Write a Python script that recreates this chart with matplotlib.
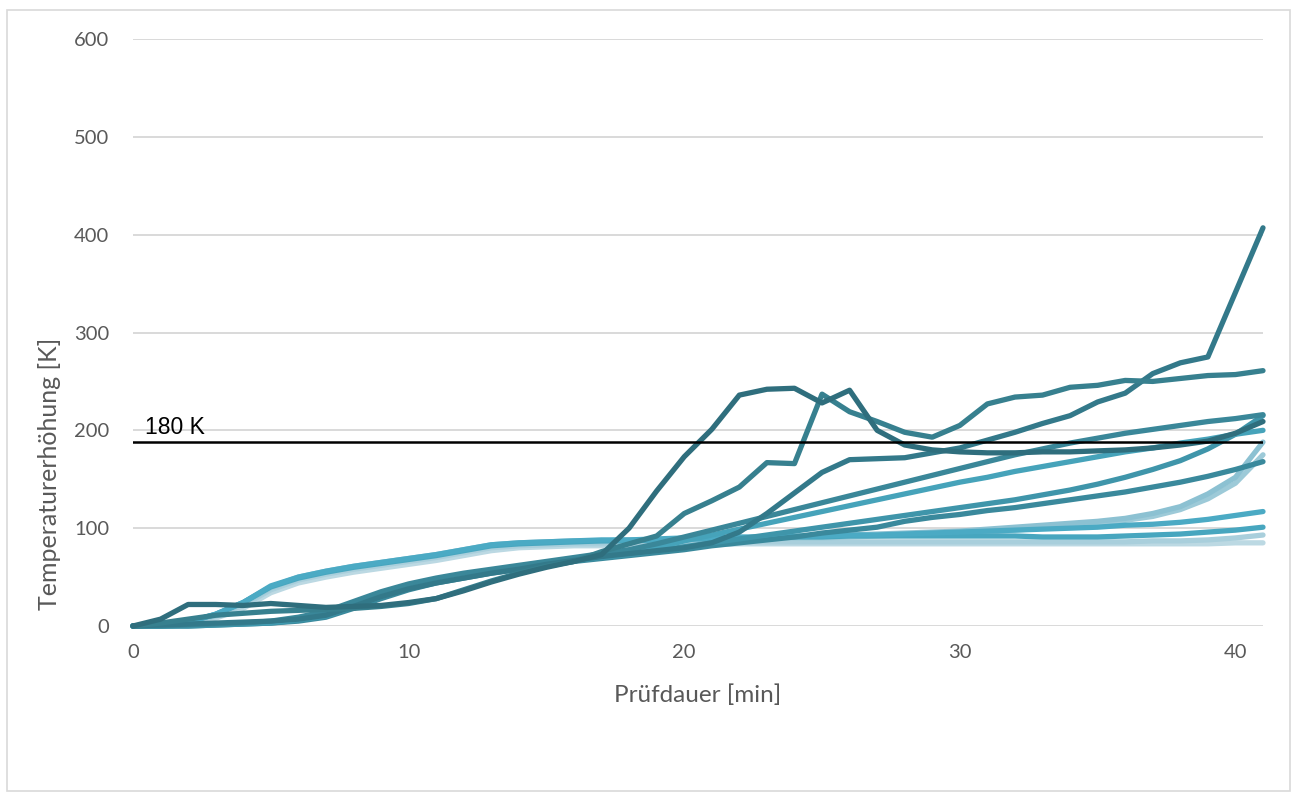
import matplotlib
matplotlib.use("Agg")
import matplotlib.pyplot as plt
from matplotlib.patches import Rectangle
import numpy as np

# ---------------- data ----------------
minutes = list(range(0, 42))

series_light_L4 = [0,0,2,8,18,34,44,50,55,59, 63,67,72,77,80,81,82,82,82,83,
                   83,83,84,84,84,84,84,84,84,84, 84,84,84,84,84,84,84,84,84,84, 85,85]
series_light_L3 = [0,1,3,10,21,37,47,53,58,62, 66,70,75,80,82,83,84,84,84,85,
                   85,85,86,86,86,86,86,86,86,86, 86,86,86,86,86,86,86,87,87,88, 90,93]
series_light_L6 = [0,1,4,11,23,39,49,55,60,64, 68,72,77,82,84,85,86,86,87,87,
                   88,88,89,89,90,90,91,92,93,94, 95,96,98,100,102,104,108,112,119,130, 146,175]
series_light_L5 = [0,1,4,12,24,40,50,56,61,65, 69,73,78,83,85,86,87,87,88,88,
                   89,89,90,91,91,92,93,94,95,96, 97,99,101,103,105,107,110,115,122,135, 152,188]
series_light_L2 = [0,1,4,12,24,40,49,55,60,64, 68,72,77,82,84,85,86,87,87,88,
                   89,89,90,90,91,91,92,92,92,92, 92,92,92,91,91,91,92,93,94,96, 98,101]
series_light_L1 = [0,1,4,12,24,41,50,56,61,65, 69,73,78,83,85,86,87,88,88,89,
                   90,90,91,91,92,92,93,93,94,95, 96,97,98,99,100,101,103,104,106,109, 113,117]
series_G = [0,0,0,1,2,3,5,9,18,28, 37,44,49,54,58,62,66,69,72,75,
            78,82,85,88,91,95,98,101,107,111, 114,118,121,125,129,133,137,142,147,153, 160,168]
series_F = [0,0,0,1,2,3,6,10,20,30, 39,46,51,55,59,63,67,70,73,77,
            81,85,89,93,97,101,105,109,113,117, 121,125,129,134,139,145,152,160,169,181, 196,215]
series_E = [0,0,1,2,3,4,7,12,22,33, 41,47,52,56,60,64,68,72,75,80,
            87,93,99,105,111,117,123,129,135,141, 147,152,158,163,168,173,178,182,187,191, 196,200]
series_D = [0,0,1,2,3,5,9,15,25,35, 43,49,54,58,62,66,70,74,78,84,
            91,98,105,112,119,126,133,140,147,154, 161,168,175,181,187,192,197,201,205,209, 212,216]
series_C = [0,1,2,3,4,5,7,11,20,30, 38,44,49,54,58,63,67,71,74,77,
            80,85,96,115,136,157,170,171,172,177, 182,190,198,207,215,229,238,258,269,275, 341,407]
series_B = [0,3,7,11,13,15,16,17,18,20, 23,28,37,46,54,61,66,76,84,92,
            115,128,142,167,166,237,219,209,198,193, 205,227,234,236,244,246,251,250,253,256, 257,261]
series_A = [0,7,22,22,21,23,21,19,20,21, 24,28,36,45,53,60,66,73,100,138,
            173,201,236,242,243,228,241,200,185,180, 178,177,177,178,178,179,180,182,185,189, 197,209]

limit_value = 188
limit_label = "180 K"

x_ticks = [0, 10, 20, 30, 40]
y_ticks = [0, 100, 200, 300, 400, 500, 600]
x_label = "Prüfdauer [min]"
y_label = "Temperaturerhöhung [K]"

# ---------------- plot ----------------
W, H = 1298, 801
fig = plt.figure(figsize=(W / 100, H / 100), dpi=100)
fig.patch.set_facecolor("white")

# outer chart border
fig.patches.append(Rectangle((7 / W, 1 - 791 / H), (1290 - 7) / W, (791 - 10) / H,
                             transform=fig.transFigure, fill=False,
                             edgecolor="#D9D9D9", linewidth=1.2))

ax = fig.add_axes([133 / W, 1 - 626 / H, (1263 - 133) / W, (626 - 39) / H])
ax.set_xlim(0, 41)
ax.set_ylim(0, 600)

font = ["Lato", "DejaVu Sans"]
tick_color = "#595959"

ax.set_yticks(y_ticks)
ax.set_xticks(x_ticks)
ax.grid(axis="y", color="#D9D9D9", linewidth=1.4, zorder=0)
ax.grid(axis="x", visible=False)
for s in ax.spines.values():
    s.set_visible(False)
ax.tick_params(length=0)
ax.tick_params(axis="y", pad=17, labelsize=14.5, labelcolor=tick_color)
ax.tick_params(axis="x", pad=13, labelsize=14.5, labelcolor=tick_color)
for lab in ax.get_xticklabels() + ax.get_yticklabels():
    lab.set_fontfamily(font)

series_list = [
    (series_light_L4, "#BCD9E3"),
    (series_light_L3, "#A9CFDC"),
    (series_light_L6, "#9DCAD8"),
    (series_light_L5, "#8CC1D2"),
    (series_light_L2, "#47A6BF"),
    (series_light_L1, "#4BAAC4"),
    (series_G, "#3A899C"),
    (series_F, "#3F95AA"),
    (series_E, "#46A3BA"),
    (series_D, "#3A8799"),
    (series_C, "#33798A"),
    (series_B, "#37808F"),
    (series_A, "#2F6E7D"),
]
for vals, col in series_list:
    ax.plot(minutes, vals, color=col, linewidth=3.8, solid_capstyle="round",
            solid_joinstyle="round", zorder=3, clip_on=False)

ax.plot([minutes[0], minutes[-1]], [limit_value, limit_value], color="black",
        linewidth=1.8, zorder=4)
ax.text(0.42, limit_value + 3, limit_label, fontsize=16.5, color="black",
        family=["Liberation Sans", "DejaVu Sans"], va="bottom", ha="left", zorder=5)

fig.text(698 / W, 1 - 695 / H, x_label, ha="center", va="center",
         fontsize=17.5, color=tick_color, family=font)
fig.text(50 / W, 1 - 474 / H, y_label, ha="center", va="center", rotation=90,
         fontsize=18, color=tick_color, family=font)

fig.savefig("out.png", dpi=100, facecolor="white")
